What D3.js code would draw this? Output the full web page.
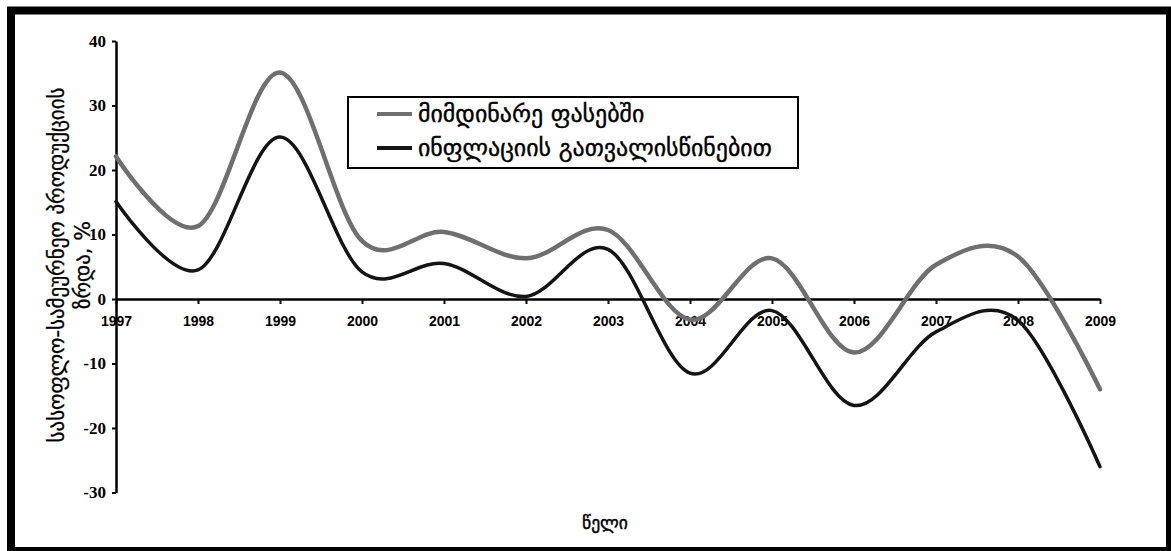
<!DOCTYPE html>
<html><head><meta charset="utf-8">
<script src="https://cdn.jsdelivr.net/npm/d3@7"></script>
<style>body{margin:0;background:#fff}svg{display:block}</style>
</head><body><svg id="c" width="1171" height="551"></svg>
<script>
const years = [1997,1998,1999,2000,2001,2002,2003,2004,2005,2006,2007,2008,2009];
const currentPrices = [22.1,11.3,35.1,9.0,10.4,6.3,10.7,-3.2,6.3,-8.3,5.3,6.6,-14.0];
const inflationAdjusted = [15.1,4.5,25.1,4.2,5.5,0.4,7.7,-11.5,-1.8,-16.5,-5.1,-3.3,-26.0];
const yTicks = [-30,-20,-10,0,10,20,30,40];
const seriesNames = ["მიმდინარე ფასებში","ინფლაციის გათვალისწინებით"];
const seriesColors = ["#6f6f6f","#141414"];
const yTitleLines = ["სასოფლო-სამეურნეო პროდუქციის","ზრდა, %"];
const xTitle = "წელი";

const svg = d3.select("#c");
const x = d3.scaleLinear().domain([1997,2009]).range([116,1100]);
const y = d3.scaleLinear().domain([-30,40]).range([492.5,41]);

// frame
svg.append("rect").attr("x",11).attr("y",10.5).attr("width",1159).attr("height",540.5)
  .attr("fill","#fff").attr("stroke","#000").attr("stroke-width",8);

// axes
const yAxis = svg.append("g").attr("transform","translate(116,0)")
  .call(d3.axisLeft(y).tickValues(yTicks).tickFormat(d=>String(d)).tickSize(4).tickSizeOuter(0).tickPadding(6));
yAxis.selectAll("text").attr("font-family","'Liberation Serif',serif").attr("font-weight","bold")
  .attr("font-size",17).attr("fill","#000");
const xAxis = svg.append("g").attr("transform",`translate(0,${y(0)})`)
  .call(d3.axisBottom(x).tickValues(years).tickFormat(d=>String(d)).tickSize(5).tickSizeOuter(0).tickPadding(12));
xAxis.selectAll("text").attr("font-family","'Liberation Sans',Arial,sans-serif").attr("font-weight","bold")
  .attr("font-size",14).attr("fill","#000");
[yAxis,xAxis].forEach(a=>{
  a.select(".domain").attr("stroke","#000").attr("stroke-width",2.5);
  a.selectAll(".tick line").attr("stroke","#000").attr("stroke-width",2);
});
yAxis.raise();

// series
const line = d3.line().x((d,i)=>x(years[i])).y(d=>y(d)).curve(d3.curveCardinal.tension(0));
[currentPrices,inflationAdjusted].forEach((s,i)=>{
  svg.append("path").datum(s).attr("d",line).attr("fill","none")
    .attr("stroke",seriesColors[i]).attr("stroke-width",i===0?4.5:3.5)
    .attr("stroke-linejoin","round").attr("stroke-linecap","round");
});

function fit(sel,target){
  const w = sel.node().getComputedTextLength();
  const fs = +sel.attr("font-size");
  return fs*target/w;
}
const gf = "'DejaVu Sans','Noto Sans',sans-serif";

// legend
const lg = svg.append("g");
lg.append("rect").attr("x",348).attr("y",97).attr("width",450).attr("height",71)
  .attr("fill","#fff").attr("stroke","#000").attr("stroke-width",2);
const ly = [114,148];
const lt = [];
seriesNames.forEach((n,i)=>{
  lg.append("line").attr("x1",377).attr("x2",412).attr("y1",ly[i]).attr("y2",ly[i])
    .attr("stroke",seriesColors[i]).attr("stroke-width",4);
  lt.push(lg.append("text").attr("x",418).attr("y",ly[i]).attr("dy","0.35em")
    .attr("font-family",gf).attr("font-size",16).attr("fill","#000")
    .attr("stroke","#000").attr("stroke-width",0.4).text(n));
});
const lfs = fit(lt[1],354);
lt.forEach(t=>t.attr("font-size",lfs));

// y title
const yt = [];
[57,83].forEach((cx,i)=>{
  yt.push(svg.append("text").attr("transform",`translate(${cx},265) rotate(-90)`)
    .attr("text-anchor","middle").attr("dy","0.35em")
    .attr("font-family",gf).attr("font-size",14).attr("fill","#000")
    .attr("stroke","#000").attr("stroke-width",0.3).text(yTitleLines[i]));
});
const yfs = fit(yt[0],355);
yt.forEach(t=>t.attr("font-size",yfs));

// x title
const xt = svg.append("text").attr("x",605).attr("y",523).attr("dy","0.35em").attr("text-anchor","middle")
  .attr("font-family",gf).attr("font-size",14).attr("fill","#000")
  .attr("stroke","#000").attr("stroke-width",0.4).text(xTitle);
xt.attr("font-size",fit(xt,46));
</script></body></html>
